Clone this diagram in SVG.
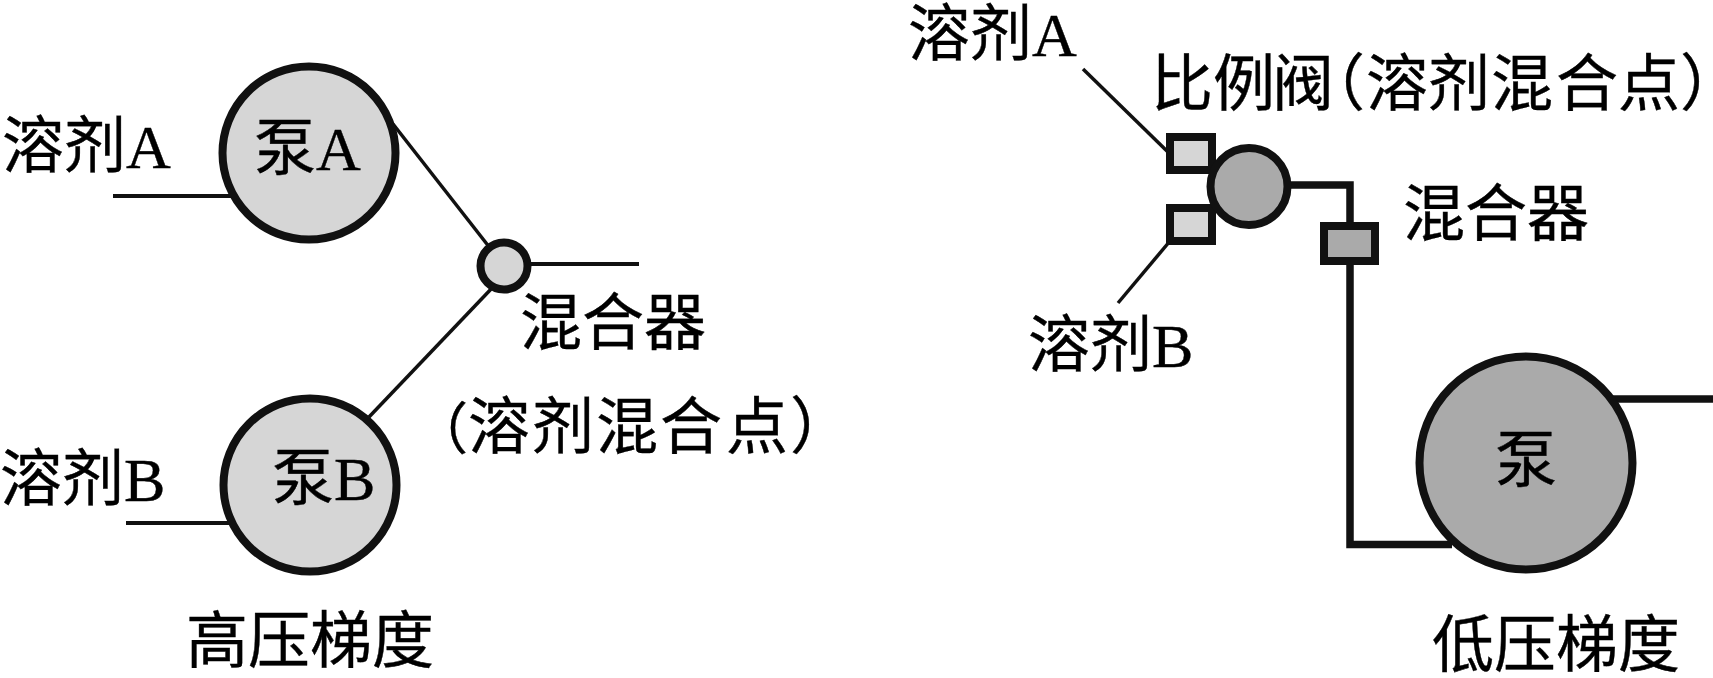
<svg xmlns="http://www.w3.org/2000/svg" width="1713" height="678" viewBox="0 0 1713 678">
<style>
text{font-family:"Liberation Serif","Noto Sans CJK SC",serif;font-size:62px;fill:#000;stroke:#000;stroke-width:.4}
.h{font-feature-settings:"halt"}
.s{font-size:56px}
.o{stroke:#111;stroke-width:7.5;fill:none}
.l{fill:#d6d6d6;stroke:#111;stroke-width:8}
.d{fill:#aaa;stroke:#111;stroke-width:8}
.thin{stroke:#111;stroke-width:3.5;fill:none}
.mid{stroke:#111;stroke-width:4;fill:none}
</style>
<rect width="1713" height="678" fill="#fff"/>
<g id="connectors">
<line class="mid" x1="113" y1="196" x2="232" y2="196"/>
<line class="mid" x1="126" y1="523" x2="232" y2="523"/>
<line class="thin" x1="393" y1="124" x2="490" y2="248"/>
<line class="thin" x1="369" y1="417" x2="493" y2="287"/>
<line class="mid" x1="528" y1="264" x2="639" y2="264"/>
<line class="thin" x1="1083" y1="69" x2="1170" y2="154"/>
<line class="thin" x1="1170" y1="241" x2="1118" y2="303"/>
<path class="o" d="M1285 185H1350V544.5H1452"/>
<line class="o" x1="1612" y1="399" x2="1713" y2="399"/>
</g>
<g id="pump-a"><circle class="l" cx="309" cy="153" r="86.5"/><text x="254" y="170">泵A</text></g>
<g id="pump-b"><circle class="l" cx="310" cy="485" r="86.5"/><text x="272" y="500">泵B</text></g>
<g id="mixer-high"><circle class="l" cx="504" cy="266" r="23.5"/></g>
<g id="solvent-a-high"><text x="2" y="168">溶剂A</text></g>
<g id="solvent-b-high"><text x="0" y="501">溶剂B</text></g>
<g id="mixer-high-label"><text x="520" y="345">混合器</text></g>
<g id="point-high-label"><text y="449"><tspan class="h s" x="440">（</tspan><tspan x="468 532 596 660 726">溶剂混合点</tspan><tspan class="h" x="790">）</tspan></text></g>
<g id="title-high"><text x="186" y="663">高压梯度</text></g>
<g id="valve-a"><rect class="l" x="1170" y="137" width="42" height="33"/></g>
<g id="valve-b"><rect class="l" x="1170" y="208" width="42" height="33"/></g>
<g id="valve"><circle class="d" cx="1249" cy="186.5" r="38.5"/></g>
<g id="mixer-low"><rect class="d" x="1324" y="226" width="51" height="35"/></g>
<g id="pump"><circle class="d" cx="1526" cy="463" r="106.5"/><text x="1495" y="482">泵</text></g>
<g id="solvent-a-low"><text x="908" y="56">溶剂A</text></g>
<g id="solvent-b-low"><text x="1028" y="367">溶剂B</text></g>
<g id="valve-label"><text y="106"><tspan x="1151 1213 1272">比例阀</tspan><tspan class="h" x="1334">（</tspan><tspan x="1366 1428 1491 1556 1618">溶剂混合点</tspan><tspan class="h" x="1680">）</tspan></text></g>
<g id="mixer-low-label"><text x="1403" y="236">混合器</text></g>
<g id="title-low"><text x="1432" y="667">低压梯度</text></g>
</svg>
